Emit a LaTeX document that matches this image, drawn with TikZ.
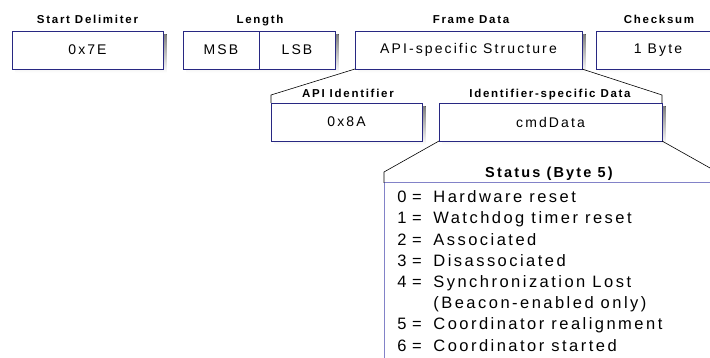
\documentclass[tikz,border=0pt]{standalone}
\usepackage{fontspec}
\setmainfont{Liberation Sans}
\newfontfamily\spacedfont[LetterSpace=15]{Liberation Sans}
\usetikzlibrary{matrix,positioning,backgrounds}

\definecolor{boxblue}{RGB}{40,40,130}
\definecolor{statusblue}{RGB}{130,130,200}
\definecolor{shade}{RGB}{212,212,212}

\begin{document}
\begin{tikzpicture}[
        x=1pt, y=-1pt,
        cell/.style={
            draw=boxblue,
            fill=white,
            line width=0.9pt,
            inner sep=0pt, outer sep=0pt,
            minimum height=38pt,
            font=\spacedfont\fontsize{14}{16}\selectfont
        },
        header/.style={anchor=base, inner sep=0pt, font=\spacedfont\bfseries\fontsize{11.5}{13}\selectfont},
        bracket/.style={line width=0.6pt}
    ]
            \useasboundingbox (0,0) rectangle (710,358);
            \clip (0,0) rectangle (710,358);

            % frame fields
            \node[cell, minimum width=151pt] (sd) at (87.5,50) {0x7E};
            \node[cell, minimum width=76pt] (msb) at (221,50) {MSB};
            \node[cell, minimum width=76pt, right=0pt of msb] (lsb) {LSB};
            \node[cell, minimum width=227pt] (fd) at (468.5,50) {API-specific Structure};
            \node[cell, minimum width=124pt] (cs) at (658,50) {1 Byte};

            \node[header] (sdhead) at (87.5,24) {Start Delimiter};
            \node[header] (lenhead) at (260,24) {Length};
            \node[header] (fdhead) at (471,24) {Frame Data};
            \node[header] (cshead) at (659,24) {Checksum};

            % frame data split
            \node[cell, minimum width=151pt] (api) at (346.5,122) {0x8A};
            \node[cell, minimum width=223pt] (cmd) at (550.5,122) {cmdData};

            \node[header] (apihead) at (348,98) {API Identifier};
            \node[header] (cmdhead) at (550,98) {Identifier-specific Data};

            % shadows behind the boxes
            \begin{scope}[on background layer]
                \foreach \n in {sd,msb,lsb,fd,cs,api,cmd}
                    \fill[shade] ([shift={(3.5,3.5)}]\n.north west) rectangle ([shift={(3.5,3.5)}]\n.south east);
            \end{scope}

            \draw[bracket] (api.north west) -- ++(0,-8) -- (fd.south west);
            \draw[bracket] (cmd.north east) -- ++(0,-8) -- (fd.south east);

            % status byte
            \coordinate (stcorner) at (384,183);
            \draw[statusblue, line width=1pt] (384,365) -- (stcorner) -- (720,183);
            \draw[bracket] (cmd.south west) -- (384,172) -- (stcorner);
            \draw[bracket] (cmd.south east) -- (720,173.6);

            \node[header, font=\spacedfont\bfseries\fontsize{14.5}{16}\selectfont] (sthead) at (549,178) {Status (Byte 5)};

            \matrix (st) [
                matrix of nodes,
                anchor=north west,
                inner sep=0pt,
                row sep=6.2pt,
                column sep=0pt,
                nodes={
                    anchor=base west,
                    inner sep=0pt,
                    text height=11pt, text depth=4pt,
                    font=\spacedfont\fontsize{16.5}{18}\selectfont
                },
                column 1/.style={nodes={text width=36pt}}
            ] at (397,191.5) {
                0\,\,= & Hardware reset \\
                1\,\,= & Watchdog timer reset \\
                2\,\,= & Associated \\
                3\,\,= & Disassociated \\
                4\,\,= & Synchronization Lost \\
                       & (Beacon-enabled only) \\
                5\,\,= & Coordinator realignment \\
                6\,\,= & Coordinator started \\
            };
        \end{tikzpicture}
\end{document}
